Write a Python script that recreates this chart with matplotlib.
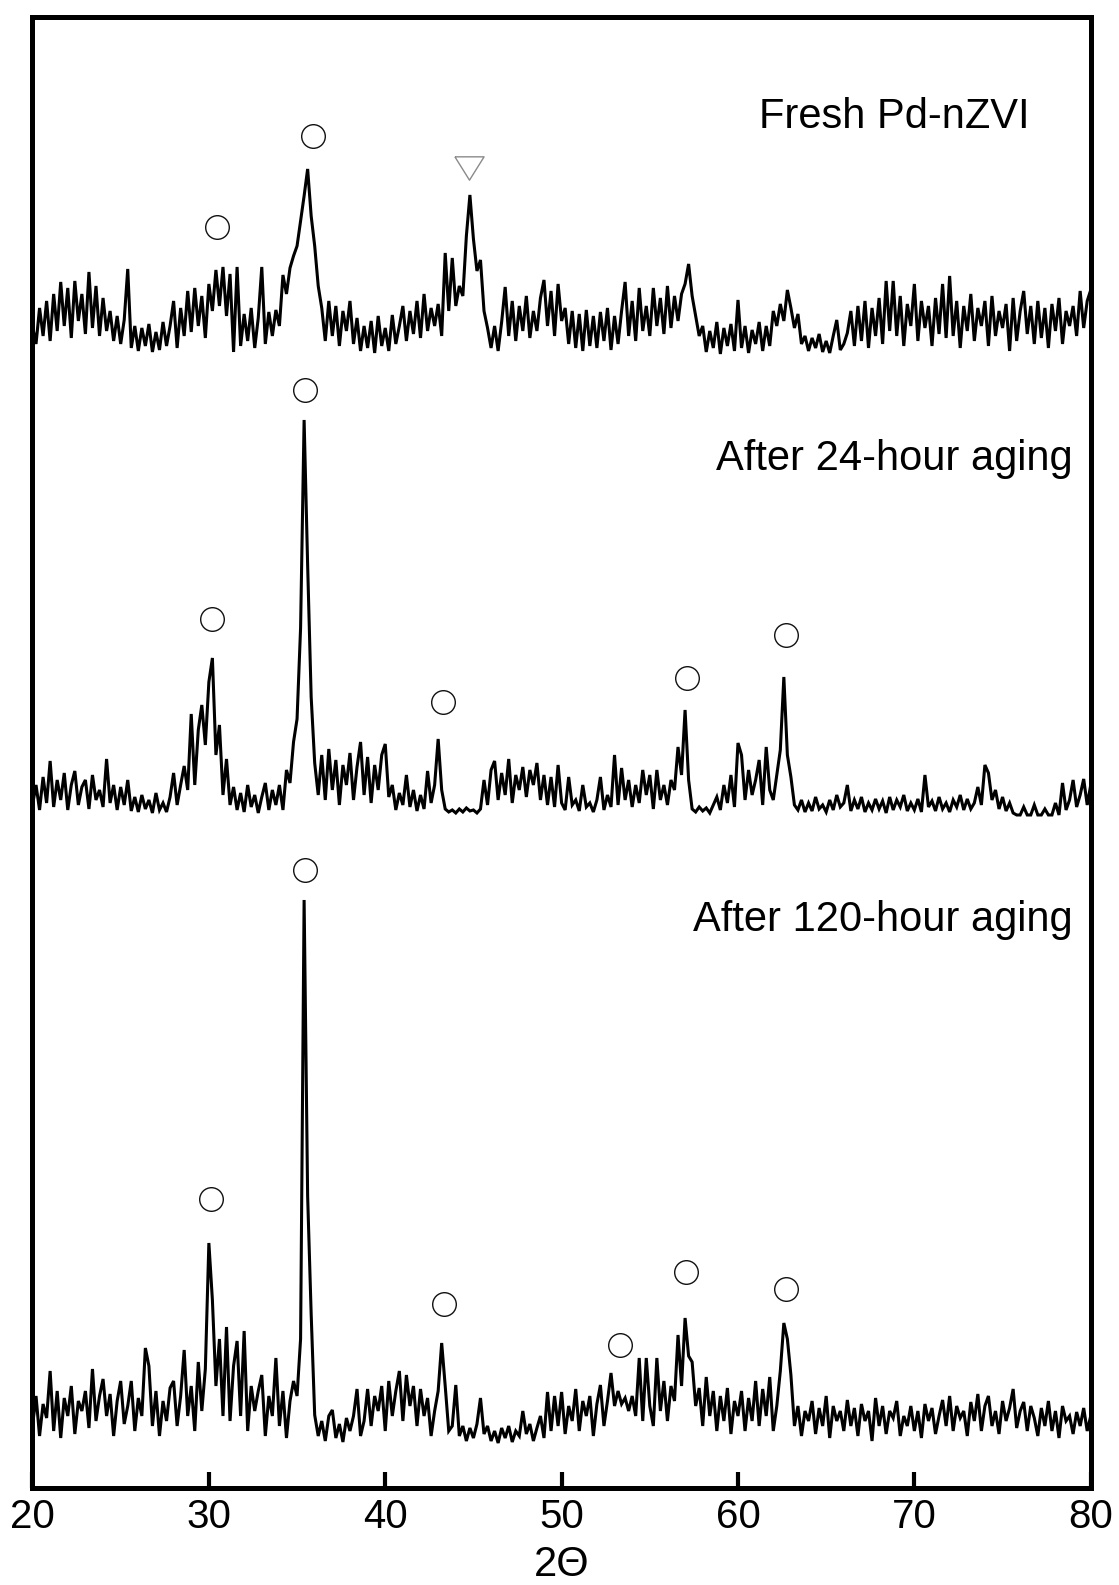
import numpy as np
import matplotlib
matplotlib.use("Agg")
import matplotlib.pyplot as plt

plt.rcParams['font.family'] = ['Liberation Sans', 'DejaVu Sans']

# scan grid (2-theta, degrees), step 0.2
two_theta = np.round(20 + 0.2 * np.arange(301), 1)

# intensities (arbitrary units, above each pattern's own baseline)
fresh = [
    30, 12, 48, 20, 55,   15, 62, 25, 74, 30,   68, 18, 75, 35, 62,   22, 84, 28, 70, 20,
    58, 25, 45, 15, 40,   12, 36, 87, 8, 30,    5, 28, 10, 32, 4,     24, 6, 34, 10, 30,
    55, 8, 48, 20, 65,    24, 68, 30, 60, 18,   72, 45, 86, 50, 89,   40, 82, 4, 89, 10,
    42, 15, 48, 8, 38,    89, 12, 44, 20, 46,   30, 81, 62, 88, 100,  110, 135, 160, 187, 140,
    110, 70, 48, 15, 55,  20, 50, 10, 45, 25,   55, 12, 38, 5, 30,    8, 35, 3, 40, 10,
    28, 5, 41, 12, 30,    50, 15, 45, 22, 55,   18, 62, 25, 48, 30,   52, 20, 103, 45, 98,
    50, 70, 60, 120, 161, 117, 85, 96, 45, 28,  8, 30, 5, 34, 69,     20, 55, 15, 50, 25,
    60, 18, 45, 25, 58,   76, 30, 65, 20, 72,   35, 48, 12, 45, 8,    42, 5, 46, 10, 40,
    8, 44, 15, 48, 6,     40, 12, 45, 74, 20,   55, 15, 68, 25, 50,   20, 68, 30, 58, 22,
    70, 28, 60, 35, 62,   72, 92, 60, 40, 20,   30, 4, 25, 8, 34,     2, 28, 10, 32, 5,
    56, 8, 30, 3, 26,     12, 34, 5, 30, 10,    45, 30, 52, 35, 66,   48, 28, 42, 12, 20,
    5, 18, 8, 22, 4,      15, 3, 20, 36, 6,     12, 23, 45, 10, 50,   15, 55, 8, 48, 20,
    58, 12, 75, 25, 75,   20, 60, 10, 52, 30,   72, 15, 55, 28, 50,   10, 58, 22, 72, 18,
    80, 20, 55, 8, 50,    25, 62, 15, 48, 30,   55, 10, 60, 20, 45,   28, 52, 5, 58, 15,
    45, 65, 22, 50, 12,   55, 18, 48, 8, 52,    25, 58, 12, 45, 30,   50, 20, 65, 28, 55,
    66,
]

aged_24h = [
    10, 30, 5, 38, 12,    54, 8, 35, 15, 42,    5, 30, 44, 10, 28,    35, 6, 40, 15, 25,
    8, 56, 12, 30, 5,     28, 10, 35, 4, 18,    3, 20, 6, 15, 2,      22, 5, 12, 3, 18,
    42, 10, 30, 49, 25,   101, 30, 85, 110, 70, 133, 157, 60, 90, 20, 56, 10, 28, 5, 22,
    3, 30, 8, 20, 2,      18, 32, 5, 25, 10,    30, 5, 45, 32, 73,    96, 187, 395, 250, 118,
    52, 20, 60, 15, 66,   25, 55, 10, 50, 30,   62, 15, 48, 73, 20,   58, 12, 50, 25, 60,
    71, 18, 30, 5, 22,    10, 40, 8, 25, 4,     20, 6, 44, 12, 30,    76, 25, 6, 3, 5,
    2, 6, 3, 7, 4,        5, 2, 6, 35, 10,      45, 54, 15, 42, 20,   56, 12, 40, 25, 48,
    18, 45, 30, 52, 15,   40, 10, 38, 8, 50,    12, 5, 38, 10, 15,    4, 30, 8, 12, 3,
    15, 38, 5, 20, 8,     60, 10, 47, 15, 35,   8, 30, 12, 45, 20,    40, 6, 45, 15, 30,
    10, 35, 25, 68, 40,   105, 35, 6, 3, 8,     4, 7, 2, 10, 18,      5, 30, 12, 40, 8,
    72, 60, 15, 45, 20,   35, 55, 10, 68, 25,   15, 40, 65, 138, 60,  38, 10, 5, 15, 3,
    12, 4, 18, 6, 10,     3, 15, 5, 20, 8,      12, 30, 4, 15, 6,     18, 3, 12, 5, 16,
    6, 14, 2, 18, 5,      15, 8, 20, 4, 12,     5, 16, 3, 40, 8,      14, 4, 18, 6, 12,
    3, 15, 8, 20, 5,      16, 6, 12, 28, 10,    50, 42, 15, 25, 6,    18, 4, 12, 2, 0,
    0, 8, 0, 0, 10,       0, 0, 6, 0, 0,        12, 0, 32, 5, 15,     35, 8, 20, 36, 10,
    30,
]

aged_120h = [
    20, 50, 10, 42, 28,   75, 15, 55, 8, 48,    30, 60, 12, 45, 35,   55, 18, 77, 25, 50,
    67, 30, 52, 10, 45,   65, 22, 40, 65, 15,   48, 30, 98, 80, 20,   55, 10, 45, 25, 58,
    65, 20, 50, 96, 30,   60, 15, 84, 35, 77,   203, 146, 60, 107, 30, 119, 25, 80, 105, 30,
    115, 15, 60, 35, 55,  71, 10, 50, 30, 88,   20, 55, 8, 45, 65,    50, 107, 546, 250, 132,
    31, 10, 25, 5, 30,    36, 8, 22, 4, 28,     15, 30, 57, 10, 25,   57, 20, 50, 35, 60,
    15, 65, 30, 55, 75,   25, 71, 40, 60, 20,   57, 30, 48, 10, 35,   55, 103, 60, 15, 20,
    61, 10, 20, 5, 18,    8, 22, 48, 12, 20,    5, 15, 3, 18, 8,      20, 4, 15, 10, 35,
    12, 22, 5, 18, 30,    8, 54, 15, 50, 20,    54, 12, 40, 25, 57,   15, 45, 30, 50, 10,
    42, 61, 20, 45, 73,   40, 55, 42, 48, 35,   50, 30, 88, 25, 88,   40, 20, 88, 35, 65,
    25, 60, 45, 111, 60,  128, 90, 84, 40, 58,  20, 69, 30, 55, 15,   50, 25, 58, 12, 45,
    30, 55, 15, 48, 25,   65, 20, 57, 30, 69,   15, 40, 75, 123, 107, 71, 20, 40, 10, 35,
    25, 45, 12, 38, 20,   50, 8, 40, 25, 35,    15, 46, 20, 38, 10,   42, 25, 35, 5, 48,
    20, 40, 12, 35, 28,   45, 10, 30, 20, 40,   15, 35, 8, 42, 25,    38, 12, 30, 46, 20,
    50, 15, 40, 28, 35,   10, 44, 25, 52, 15,   40, 50, 20, 35, 12,   45, 25, 38, 57, 18,
    35, 44, 15, 40, 28,   10, 38, 20, 45, 15,   35, 8, 40, 25, 30,    12, 34, 20, 38, 15,
    30,
]

series_names = ["Fresh Pd-nZVI", "After 24-hour aging", "After 120-hour aging"]
series_offsets = [1132, 673, 42]

# phase markers: circles (iron oxide) and triangle (Fe0)
circle_angles = [30.44, 35.91, 35.46, 30.15, 43.27, 57.13, 62.73,
                 35.46, 30.10, 43.33, 53.31, 57.08, 62.73]
circle_levels = [1260.6, 1351.5, 1097.8, 869.4, 785.5, 809.8, 853.2,
                 617.7, 289.2, 184.1, 142.6, 216.4, 199.2]
triangle_angles = [44.76]
triangle_levels = [1320.0]

xticks = [20, 30, 40, 50, 60, 70, 80]

assert len(fresh) == len(two_theta) == len(aged_24h) == len(aged_120h)

fig = plt.figure(figsize=(11.19, 15.85), dpi=100)
ax = fig.add_axes([0.02904, 0.0612, 0.9457, 0.9281])

for data, off in zip([fresh, aged_24h, aged_120h], series_offsets):
    ax.plot(two_theta, np.array(data) + off, color='black', lw=2.2,
            solid_joinstyle='miter')

ax.plot(circle_angles, circle_levels, linestyle='none', marker='o',
        markersize=17, markerfacecolor='none', markeredgecolor='#111111',
        markeredgewidth=1.0)
tri = [(-1, 0.8), (1, 0.8), (0, -0.8), (-1, 0.8)]
ax.plot(triangle_angles, triangle_levels, linestyle='none', marker=tri,
        markersize=21, markerfacecolor='none', markeredgecolor='#8a8a8a',
        markeredgewidth=1.0)

ax.text(0.9426, 0.9245, series_names[0], transform=ax.transAxes,
        ha='right', va='baseline', fontsize=30)
ax.text(0.9833, 0.692, series_names[1], transform=ax.transAxes,
        ha='right', va='baseline', fontsize=30)
ax.text(0.9833, 0.3787, series_names[2], transform=ax.transAxes,
        ha='right', va='baseline', fontsize=30)

ax.set_xlim(20, 80)
ax.set_ylim(0, 1471)
ax.set_xticks(xticks)
ax.set_xticklabels([str(t) for t in xticks])
ax.set_yticks([])
ax.tick_params(axis='x', direction='in', length=11.5, width=3, pad=7,
               labelsize=29, top=False)
for s in ax.spines.values():
    s.set_linewidth(3.6)
ax.set_xlabel('2\u0398', fontsize=30, labelpad=6.5)

fig.savefig('out.png', dpi=100)
